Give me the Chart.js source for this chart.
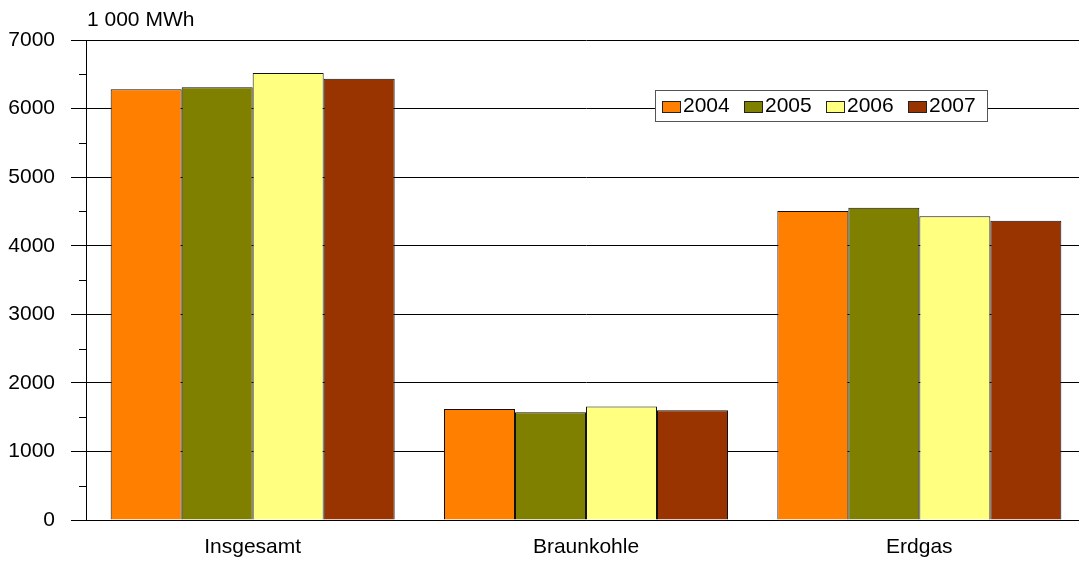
<!DOCTYPE html>
<html>
<head>
<meta charset="utf-8">
<script src="https://cdn.jsdelivr.net/npm/chart.js@4.4.0/dist/chart.umd.min.js"></script>
<style>
  html, body { margin: 0; padding: 0; background: #fff; overflow: hidden; }
  canvas { display: block; }
</style>
</head>
<body>
<canvas id="chart" width="1086" height="563"></canvas>
<script>
// Data (1 000 MWh)
const categories = ["Insgesamt", "Braunkohle", "Erdgas"];
const years = ["2004", "2005", "2006", "2007"];
const values2004 = [6280, 1620, 4505];
const values2005 = [6310, 1570, 4555];
const values2006 = [6520, 1655, 4430];
const values2007 = [6435, 1600, 4365];
const yTicks = [0, 1000, 2000, 3000, 4000, 5000, 6000, 7000];
const unitLabel = "1 000 MWh";

const colors = ["#FF8000", "#808000", "#FFFF80", "#993300"];
const FONT = "'Liberation Sans', Arial, sans-serif";
const FONT_SIZE = 21;

const seriesValues = [values2004, values2005, values2006, values2007];
const datasets = years.map((y, i) => ({
  label: y,
  data: seriesValues[i],
  backgroundColor: colors[i],
  borderColor: "#111",
  borderWidth: 1,
  categoryPercentage: 0.852,
  barPercentage: 1.0
}));

// unit label, minor ticks and boxed legend inside the plot
const extras = {
  id: "extras",
  afterDraw(chart) {
    const ctx = chart.ctx;
    const y = chart.scales.y;
    const area = chart.chartArea;

    ctx.save();
    ctx.strokeStyle = "#000";
    ctx.lineWidth = 1;
    for (let i = 0; i < yTicks.length - 1; i++) {
      const v = (yTicks[i] + yTicks[i + 1]) / 2;
      const py = Math.round(y.getPixelForValue(v)) + 0.5;
      ctx.beginPath();
      ctx.moveTo(area.left - 7, py);
      ctx.lineTo(area.left, py);
      ctx.stroke();
    }

    ctx.fillStyle = "#000";
    ctx.font = FONT_SIZE + "px " + FONT;
    ctx.textAlign = "left";
    ctx.textBaseline = "middle";
    ctx.fillText(unitLabel, area.left + 1, 20);

    // legend box
    const bx = 655, by = 90, bw = 332, bh = 31;
    ctx.fillStyle = "#fff";
    ctx.fillRect(bx, by, bw, bh);
    ctx.strokeStyle = "#555";
    ctx.strokeRect(bx + 0.5, by + 0.5, bw, bh);
    let x = bx + 7;
    chart.data.datasets.forEach(ds => {
      ctx.fillStyle = ds.backgroundColor;
      ctx.fillRect(x, by + 11, 18, 11);
      ctx.strokeStyle = "#222";
      ctx.strokeRect(x + 0.5, by + 11.5, 18, 11);
      ctx.fillStyle = "#000";
      ctx.textAlign = "left";
      ctx.fillText(ds.label, x + 21, by + 16);
      x += 82;
    });
    ctx.restore();
  }
};

new Chart(document.getElementById("chart"), {
  type: "bar",
  data: { labels: categories, datasets: datasets },
  options: {
    responsive: false,
    animation: false,
    layout: { padding: { top: 40, right: 0, left: 0, bottom: 0 } },
    plugins: {
      legend: { display: false },
      tooltip: { enabled: false }
    },
    scales: {
      x: {
        grid: { display: false, drawTicks: false },
        border: { display: true, color: "#000", width: 1 },
        ticks: { color: "#000", font: { family: FONT, size: FONT_SIZE }, padding: 15 },
        afterFit(scale) { scale.height = 43; }
      },
      y: {
        min: 0,
        max: 7000,
        afterBuildTicks(scale) { scale.ticks = yTicks.map(v => ({ value: v })); },
        grid: { color: "#000", lineWidth: 1, tickLength: 15, tickColor: "#000" },
        border: { display: true, color: "#000", width: 1 },
        ticks: {
          color: "#000",
          font: { family: FONT, size: FONT_SIZE },
          padding: 16,
          callback: v => String(v)
        },
        afterFit(scale) { scale.width = 86; }
      }
    }
  },
  plugins: [extras]
});
</script>
</body>
</html>
